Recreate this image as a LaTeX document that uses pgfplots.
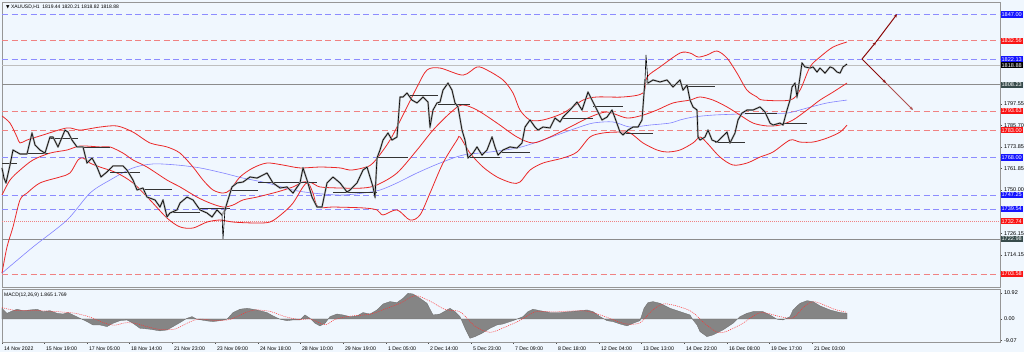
\documentclass[border=0pt]{standalone}
\usepackage{pgfplots}
\pgfplotsset{compat=1.18}
\usepackage{fontspec}
\setmainfont{Liberation Sans}
\newfontfamily\dejavu{DejaVu Sans}
\usetikzlibrary{arrows.meta}
\definecolor{bg}{RGB}{240,247,254}
\definecolor{lvlblue}{RGB}{140,140,255}
\definecolor{lvlred}{RGB}{240,130,130}
\definecolor{bandred}{RGB}{235,40,40}
\definecolor{maBlue}{RGB}{130,130,255}
\definecolor{boxgray}{RGB}{55,75,75}
\definecolor{arrowred}{RGB}{140,10,10}
\definecolor{arrowpale}{RGB}{190,110,110}
\definecolor{framec}{RGB}{150,150,150}
\definecolor{boxblue}{RGB}{20,20,255}
\definecolor{boxred}{RGB}{250,20,20}
\newcommand{\lbl}[3]{\node[anchor=west, fill=#2, text=white, inner xsep=0.9pt, inner ysep=1.1pt, font=\fontsize{5.6}{6}\selectfont] at (axis cs:1000.5,#1) {#3};}
\begin{document}
\begin{tikzpicture}
\path[use as bounding box] (0,0) rectangle (1024pt,352pt);
\fill[bg] (0,0) rectangle (1024pt,352pt);
\begin{axis}[
 at={(2pt,65pt)}, anchor=south west, scale only axis, width=998pt, height=285pt,
 xmin=2, xmax=1000, ymin=1696.4, ymax=1853.9,
 clip=false,
 axis background/.style={fill=bg},
 axis line style={draw=framec, line width=0.6pt},
 xtick=\empty,
 ytick pos=right, yticklabel pos=right,
 ytick={1714.15,1726.15,1750.00,1761.85,1773.85,1785.70,1797.55},
 yticklabels={1714.15,1726.15,1750.00,1761.85,1773.85,1785.70,1797.55},
 tick align=outside, major tick length=2pt, tick style={draw=black!70, line width=0.4pt},
 yticklabel style={font=\fontsize{5.5}{6}\selectfont, xshift=-1.5pt},
 /pgf/number format/assume math mode=true,
]
% level lines
\addplot[lvlblue, line width=0.7pt, dash pattern=on 6pt off 3.5pt] coordinates {(2,1847.00) (1000,1847.00)};
\addplot[lvlred, line width=0.7pt, dash pattern=on 6pt off 3.5pt] coordinates {(2,1832.56) (1000,1832.56)};
\addplot[lvlblue, line width=0.7pt, dash pattern=on 6pt off 3.5pt] coordinates {(2,1822.13) (1000,1822.13)};
\addplot[black!25, line width=0.5pt] coordinates {(2,1818.88) (1000,1818.88)};
\addplot[black!45, line width=0.7pt] coordinates {(2,1808.23) (1000,1808.23)};
\addplot[lvlred, line width=0.7pt, dash pattern=on 6pt off 3.5pt] coordinates {(2,1793.63) (1000,1793.63)};
\addplot[lvlred, line width=0.7pt, dash pattern=on 6pt off 3.5pt] coordinates {(2,1783.00) (1000,1783.00)};
\addplot[lvlblue, line width=0.7pt, dash pattern=on 6pt off 3.5pt] coordinates {(2,1768.00) (1000,1768.00)};
\addplot[lvlblue, line width=0.7pt, dash pattern=on 6pt off 3.5pt] coordinates {(2,1747.25) (1000,1747.25)};
\addplot[lvlblue, line width=0.7pt, dash pattern=on 6pt off 3.5pt] coordinates {(2,1739.54) (1000,1739.54)};
\addplot[lvlred, line width=0.6pt, dash pattern=on 1pt off 1pt] coordinates {(2,1732.74) (1000,1732.74)};
\addplot[black!45, line width=0.7pt] coordinates {(2,1722.98) (1000,1722.98)};
\addplot[lvlred, line width=0.7pt, dash pattern=on 6pt off 3.5pt] coordinates {(2,1703.58) (1000,1703.58)};
% moving average
\addplot[maBlue, line width=0.6pt, smooth] coordinates {
(2,1704.1) (33,1718.5) (67,1733.4) (90,1748.3) (110,1755.5) (133,1762.2) (153,1764.4) (177,1763.8) (200,1762.2) (223,1759.4) (243,1756.6) (267,1753.9) (293,1750.0) (313,1748.3) (340,1747.2) (363,1748.3) (380,1750.0) (397,1753.9) (417,1759.4) (440,1764.9) (463,1769.3) (490,1771.0) (517,1773.2) (537,1776.5) (557,1780.4) (577,1784.3) (593,1787.0) (613,1787.6) (630,1784.8) (650,1785.9) (670,1787.0) (680,1788.7) (693,1790.3) (713,1791.4) (740,1792.0) (767,1792.5) (787,1792.5) (807,1795.3) (827,1798.1) (847,1799.7)};
% Bollinger upper
\addplot[bandred, line width=0.8pt, smooth] coordinates {
(2,1790.9) (10,1787.0) (17,1779.3) (20,1776.0) (27,1777.6) (43,1780.4) (67,1784.3) (80,1783.1) (100,1784.8) (117,1785.4) (133,1782.0) (150,1776.0) (167,1773.8) (180,1770.4) (193,1762.7) (203,1755.5) (213,1750.0) (223,1748.3) (230,1750.0) (240,1757.2) (253,1762.2) (267,1764.9) (283,1763.8) (300,1762.2) (320,1762.7) (340,1762.2) (350,1761.0) (363,1762.2) (373,1764.9) (390,1777.6) (407,1795.9) (417,1806.9) (427,1816.3) (440,1817.4) (463,1813.5) (477,1818.0) (487,1816.3) (503,1810.8) (513,1803.6) (520,1794.2) (530,1788.7) (543,1788.7) (563,1792.5) (583,1799.7) (597,1801.4) (623,1801.4) (643,1803.6) (647,1812.4) (660,1818.0) (680,1825.7) (690,1825.7) (698,1823.5) (707,1824.6) (717,1826.8) (727,1822.9) (737,1814.6) (747,1805.2) (757,1801.4) (763,1799.7) (790,1799.7) (800,1805.2) (810,1818.0) (820,1823.5) (833,1829.0) (847,1831.8)};
% Bollinger middle
\addplot[bandred, line width=0.8pt, smooth] coordinates {
(2,1747.2) (10,1755.5) (20,1761.0) (33,1766.6) (50,1770.4) (67,1772.1) (80,1774.3) (100,1773.8) (110,1773.8) (123,1770.4) (133,1766.6) (147,1762.7) (167,1755.5) (180,1751.7) (197,1746.1) (210,1742.8) (223,1740.6) (233,1741.7) (243,1744.5) (257,1746.1) (277,1748.9) (293,1751.7) (303,1754.4) (312,1753.9) (320,1751.7) (340,1751.1) (363,1751.1) (377,1752.8) (397,1759.4) (417,1772.1) (433,1783.1) (450,1792.5) (462,1797.0) (477,1794.2) (497,1787.0) (517,1779.3) (533,1776.0) (550,1779.3) (570,1784.8) (590,1790.3) (607,1793.1) (627,1789.8) (643,1791.4) (657,1794.2) (673,1798.1) (690,1799.7) (700,1801.4) (713,1799.7) (727,1795.9) (740,1791.4) (753,1787.0) (767,1785.4) (780,1785.9) (793,1788.7) (807,1794.2) (820,1799.7) (833,1804.1) (847,1809.1)};
% Bollinger lower
\addplot[bandred, line width=0.8pt, smooth] coordinates {
(2,1704.1) (7,1718.5) (13,1729.6) (20,1744.5) (27,1748.3) (40,1753.9) (60,1757.2) (70,1759.4) (78,1766.6) (83,1767.7) (90,1764.9) (100,1762.7) (117,1759.4) (133,1753.9) (150,1744.5) (167,1734.5) (180,1729.6) (193,1729.0) (207,1732.3) (220,1733.4) (233,1732.3) (253,1731.8) (270,1732.3) (283,1737.3) (293,1742.8) (303,1751.7) (308,1753.9) (313,1748.3) (318,1740.6) (333,1740.6) (363,1740.1) (377,1739.0) (383,1736.2) (397,1739.0) (410,1733.4) (420,1736.2) (430,1748.3) (443,1764.9) (457,1777.6) (460,1779.3) (470,1770.4) (483,1762.7) (497,1757.2) (512,1753.9) (520,1754.4) (530,1761.0) (543,1764.9) (563,1767.7) (577,1771.0) (590,1779.3) (603,1781.5) (617,1782.0) (630,1781.5) (643,1776.0) (657,1772.1) (667,1771.0) (680,1772.1) (693,1776.0) (700,1779.3) (707,1776.0) (720,1768.2) (733,1763.8) (747,1764.9) (760,1768.2) (773,1771.0) (790,1777.6) (800,1776.5) (813,1776.5) (827,1778.7) (840,1782.0) (847,1785.9)};
% daily open segments
\addplot[black!80, line width=0.7pt, unbounded coords=jump] coordinates {
(2,1764.9) (17,1764.9) (17,nan) (20,1770.4) (48,1770.4) (48,nan) (50,1778.7) (78,1778.7) (78,nan) (80,1773.8) (110,1773.8) (110,nan) (110,1760.0) (140,1760.0) (140,nan) (143,1750.5) (172,1750.5) (172,nan) (172,1737.8) (200,1737.8) (200,nan) (200,1740.0) (230,1740.0) (230,nan) (230,1750.0) (258,1750.0) (258,nan) (258,1754.4) (287,1754.4) (287,nan) (287,1754.4) (317,1754.4) (317,nan) (333,1748.9) (377,1748.9) (377,nan) (377,1768.2) (408,1768.2) (408,nan) (408,1802.5) (438,1802.5) (438,nan) (438,1797.5) (470,1797.5) (470,nan) (470,1768.2) (500,1768.2) (500,nan) (500,1771.0) (530,1771.0) (530,nan) (563,1789.8) (593,1789.8) (593,nan) (593,1796.4) (623,1796.4) (623,nan) (623,1781.5) (653,1781.5) (653,nan) (687,1807.5) (715,1807.5) (715,nan) (715,1776.5) (745,1776.5) (745,nan) (745,1792.5) (777,1792.5) (777,nan) (777,1787.0) (807,1787.0)};
% price
\addplot[black!35, line width=1.8pt, line join=round] coordinates {
(2,1762.2) (4,1756.6) (6,1753.9) (10,1763.8) (13,1772.1) (20,1769.9) (27,1769.9) (32,1781.5) (35,1774.9) (40,1772.1) (45,1770.4) (50,1779.3) (53,1779.3) (58,1773.8) (65,1783.1) (68,1782.0) (72,1777.6) (77,1773.8) (83,1773.8) (87,1764.9) (92,1767.7) (97,1762.7) (101,1757.2) (107,1760.0) (113,1763.3) (123,1763.3) (127,1761.0) (133,1755.5) (137,1750.0) (143,1751.1) (147,1746.1) (155,1744.5) (160,1740.6) (163,1744.5) (167,1735.1) (170,1737.3) (177,1739.0) (180,1742.8) (187,1746.1) (193,1744.5) (200,1739.0) (207,1737.3) (212,1735.1) (217,1739.0) (222,1736.2) (225,1739.0) (227,1742.8) (232,1751.7) (237,1753.9) (243,1754.4) (250,1757.2) (257,1756.6) (267,1759.4) (273,1753.9) (280,1751.1) (287,1751.7) (293,1748.3) (300,1753.9) (303,1762.2) (307,1755.5) (312,1746.1) (317,1740.6) (322,1740.6) (327,1753.9) (333,1757.2) (340,1753.9) (347,1748.9) (350,1750.0) (357,1753.9) (363,1761.0) (367,1762.7) (370,1757.2) (373,1751.7) (375,1746.1) (377,1767.7) (380,1772.1) (383,1777.6) (388,1781.5) (392,1777.6) (397,1779.3) (400,1801.4) (403,1801.4) (407,1803.6) (412,1799.7) (417,1798.1) (423,1801.4) (428,1798.6) (430,1784.8) (433,1794.2) (437,1798.1) (440,1798.6) (443,1805.2) (448,1809.1) (452,1805.2) (455,1798.1) (458,1795.9) (462,1783.1) (465,1777.6) (468,1767.7) (473,1770.4) (477,1773.8) (482,1769.3) (487,1772.1) (492,1779.3) (495,1773.8) (498,1769.3) (503,1772.1) (510,1773.8) (517,1773.2) (522,1776.0) (525,1784.8) (530,1788.7) (535,1784.8) (538,1783.1) (543,1784.8) (550,1784.3) (555,1789.8) (560,1787.6) (563,1790.3) (570,1794.2) (577,1798.6) (582,1794.2) (588,1804.1) (593,1798.6) (597,1794.2) (602,1788.7) (607,1790.3) (612,1794.2) (615,1789.8) (620,1782.0) (623,1780.4) (628,1783.1) (633,1784.8) (638,1784.8) (642,1788.7) (645,1810.8) (648,1809.1) (653,1810.8) (660,1809.7) (667,1810.8) (673,1806.9) (680,1810.8) (683,1805.2) (687,1808.0) (690,1799.7) (693,1795.9) (697,1794.2) (698,1779.3) (700,1777.6) (705,1779.3) (708,1783.1) (712,1777.6) (717,1776.5) (722,1779.3) (727,1782.0) (730,1776.0) (735,1781.5) (738,1788.7) (742,1792.5) (747,1794.2) (753,1794.2) (760,1795.9) (765,1793.1) (770,1787.0) (773,1785.9) (780,1787.0) (783,1785.9) (787,1794.2) (790,1799.7) (792,1806.9) (795,1809.1) (797,1801.4) (800,1812.4) (802,1820.2) (805,1818.0) (810,1817.4) (813,1818.0) (817,1815.2) (820,1817.4) (825,1814.6) (830,1818.0) (833,1817.4) (837,1815.2) (840,1814.6) (843,1818.0) (847,1819.6)};
\addplot[black, line width=0.6pt] coordinates {
(2,1762.2) (4,1756.6) (6,1753.9) (10,1763.8) (13,1772.1) (20,1769.9) (27,1769.9) (32,1781.5) (35,1774.9) (40,1772.1) (45,1770.4) (50,1779.3) (53,1779.3) (58,1773.8) (65,1783.1) (68,1782.0) (72,1777.6) (77,1773.8) (83,1773.8) (87,1764.9) (92,1767.7) (97,1762.7) (101,1757.2) (107,1760.0) (113,1763.3) (123,1763.3) (127,1761.0) (133,1755.5) (137,1750.0) (143,1751.1) (147,1746.1) (155,1744.5) (160,1740.6) (163,1744.5) (167,1735.1) (170,1737.3) (177,1739.0) (180,1742.8) (187,1746.1) (193,1744.5) (200,1739.0) (207,1737.3) (212,1735.1) (217,1739.0) (222,1736.2) (223,1723.0) (225,1739.0) (227,1742.8) (232,1751.7) (237,1753.9) (243,1754.4) (250,1757.2) (257,1756.6) (267,1759.4) (273,1753.9) (280,1751.1) (287,1751.7) (293,1748.3) (300,1753.9) (303,1762.2) (307,1755.5) (312,1746.1) (317,1740.6) (322,1740.6) (327,1753.9) (333,1757.2) (340,1753.9) (347,1748.9) (350,1750.0) (357,1753.9) (363,1761.0) (367,1762.7) (370,1757.2) (373,1751.7) (375,1746.1) (377,1767.7) (380,1772.1) (383,1777.6) (388,1781.5) (392,1777.6) (397,1779.3) (400,1801.4) (403,1801.4) (407,1803.6) (412,1799.7) (417,1798.1) (423,1801.4) (428,1798.6) (430,1784.8) (433,1794.2) (437,1798.1) (440,1798.6) (443,1805.2) (448,1809.1) (452,1805.2) (455,1798.1) (458,1795.9) (462,1783.1) (465,1777.6) (468,1767.7) (473,1770.4) (477,1773.8) (482,1769.3) (487,1772.1) (492,1779.3) (495,1773.8) (498,1769.3) (503,1772.1) (510,1773.8) (517,1773.2) (522,1776.0) (525,1784.8) (530,1788.7) (535,1784.8) (538,1783.1) (543,1784.8) (550,1784.3) (555,1789.8) (560,1787.6) (563,1790.3) (570,1794.2) (577,1798.6) (582,1794.2) (588,1804.1) (593,1798.6) (597,1794.2) (602,1788.7) (607,1790.3) (612,1794.2) (615,1789.8) (620,1782.0) (623,1780.4) (628,1783.1) (633,1784.8) (638,1784.8) (642,1788.7) (645,1810.8) (646,1824.6) (648,1809.1) (653,1810.8) (660,1809.7) (667,1810.8) (673,1806.9) (680,1810.8) (683,1805.2) (687,1808.0) (690,1799.7) (693,1795.9) (697,1794.2) (698,1779.3) (700,1777.6) (705,1779.3) (708,1783.1) (712,1777.6) (717,1776.5) (722,1779.3) (727,1782.0) (730,1776.0) (735,1781.5) (738,1788.7) (742,1792.5) (747,1794.2) (753,1794.2) (760,1795.9) (765,1793.1) (770,1787.0) (773,1785.9) (780,1787.0) (783,1785.9) (787,1794.2) (790,1799.7) (792,1806.9) (795,1809.1) (797,1801.4) (800,1812.4) (802,1820.2) (805,1818.0) (810,1817.4) (813,1818.0) (817,1815.2) (820,1817.4) (825,1814.6) (830,1818.0) (833,1817.4) (837,1815.2) (840,1814.6) (843,1818.0) (847,1819.6)};
% scenario arrows
\addplot[arrowred, line width=1pt, -{Stealth[length=3.5pt,width=3pt]}] coordinates {(862,1822.4) (876,1831.8)};
\addplot[arrowred, line width=1pt, -{Stealth[length=3.5pt,width=3pt]}] coordinates {(876,1831.8) (897,1847.2)};
\addplot[arrowred, line width=1pt, -{Stealth[length=3.5pt,width=3pt]}] coordinates {(862,1822.4) (886,1809.1)};
\addplot[arrowpale!70!arrowred, line width=1pt, -{Stealth[length=3.5pt,width=3pt]}] coordinates {(886,1809.1) (913,1794.2)};
% right labels
\lbl{1847.00}{boxblue}{1847.00}
\lbl{1832.56}{boxred}{1832.56}
\lbl{1822.13}{boxblue}{1822.13}
\lbl{1818.88}{black}{1818.88}
\lbl{1808.23}{boxgray}{1808.23}
\lbl{1793.63}{boxred}{1793.63}
\lbl{1783.00}{boxred}{1783.00}
\lbl{1768.00}{boxblue}{1768.00}
\lbl{1747.25}{boxblue}{1747.25}
\lbl{1739.54}{boxblue}{1739.54}
\lbl{1732.74}{boxred}{1732.74}
\lbl{1722.98}{boxgray}{1722.98}
\lbl{1703.58}{boxred}{1703.58}
\node[anchor=north west, inner sep=0pt, font=\fontsize{5}{6}\selectfont] at (rel axis cs:0.004,0.99) {{\dejavu\fontsize{4.5}{5}\selectfont ▼} XAUUSD,H1\ \ 1819.44 1820.21 1818.82 1818.88};
\end{axis}
\begin{axis}[
 at={(2pt,10pt)}, anchor=south west, scale only axis, width=998pt, height=53pt,
 xmin=2, xmax=1000, ymin=-9.66, ymax=12.6,
 clip=false,
 axis background/.style={fill=bg},
 axis line style={draw=framec, line width=0.6pt},
 xtick pos=bottom,
 xtick={2,44,87,129,172,215,258,300,343,386,428,471,513,556,599,641,684,727,769,812},
 xticklabels={14 Nov 2022,15 Nov 19:00,17 Nov 05:00,18 Nov 14:00,21 Nov 23:00,23 Nov 09:00,24 Nov 18:00,28 Nov 10:00,29 Nov 19:00,1 Dec 05:00,2 Dec 14:00,5 Dec 23:00,7 Dec 09:00,8 Dec 18:00,12 Dec 04:00,13 Dec 13:00,14 Dec 22:00,16 Dec 08:00,19 Dec 17:00,21 Dec 03:00},
 xticklabel style={anchor=north west, font=\fontsize{5.2}{6}\selectfont, xshift=-1.5pt, yshift=1pt},
 x tick style={draw=black!70, line width=0.4pt},
 ytick pos=right, yticklabel pos=right,
 ytick={-9.07,0,10.92},
 yticklabels={-9.07,0.00,10.92},
 tick align=outside, major tick length=2pt, y tick style={draw=black!70, line width=0.4pt},
 yticklabel style={font=\fontsize{5.5}{6}\selectfont, xshift=-1.5pt},
 /pgf/number format/assume math mode=true,
]
\addplot[fill=black!48, draw=black!58, line width=0.3pt] coordinates {
(2,0) (2,4.5) (7,2.4) (13,3.5) (17,4.1) (23,3.5) (30,3.8) (37,4.1) (43,3.1) (50,3.5) (57,2.4) (63,2.1) (68,2.7) (73,1.7) (80,0.3) (87,-1.1) (93,-2.5) (100,-2.5) (107,-3.2) (113,-1.8) (120,-0.7) (127,-0.4) (133,-1.8) (140,-3.9) (150,-4.3) (160,-5.0) (167,-4.6) (173,-3.2) (180,-1.5) (187,0.3) (192,1.0) (197,-0.1) (207,-0.8) (213,-1.1) (220,-0.7) (227,-0.1) (233,2.7) (240,4.1) (247,4.5) (253,4.1) (260,3.5) (267,2.7) (273,1.3) (280,-0.1) (287,-0.7) (293,-0.4) (300,-0.4) (305,1.7) (310,0.3) (315,-1.8) (320,-2.9) (325,-1.8) (330,1.0) (337,2.1) (343,1.7) (350,1.0) (357,1.3) (363,2.7) (370,2.1) (377,3.8) (383,6.3) (390,7.3) (397,6.9) (403,8.7) (408,10.8) (413,10.5) (420,8.7) (427,6.6) (433,1.7) (440,2.1) (447,3.8) (450,4.5) (455,3.1) (460,1.0) (465,-3.9) (470,-8.1) (475,-7.4) (482,-6.0) (490,-3.9) (497,-2.5) (503,-2.1) (513,-0.7) (523,1.0) (528,3.1) (533,4.1) (540,3.5) (550,2.7) (560,2.7) (570,3.1) (580,3.5) (587,3.8) (593,3.1) (600,1.0) (607,-0.7) (613,-1.1) (620,-2.1) (627,-2.9) (633,-1.8) (640,-0.7) (644,4.5) (648,6.9) (653,7.3) (660,6.6) (670,4.5) (680,3.1) (690,1.7) (693,-0.4) (697,-2.5) (700,-5.3) (707,-7.4) (713,-6.7) (723,-4.6) (733,-1.8) (740,1.0) (747,2.4) (753,3.1) (763,3.1) (770,1.7) (777,-0.1) (783,-0.4) (790,1.0) (793,3.8) (800,6.6) (807,7.7) (813,7.3) (820,5.5) (830,3.8) (840,2.7) (847,2.4) (847,0)} -- cycle;
\addplot[red!80, line width=0.5pt, dash pattern=on 1pt off 1pt, smooth] coordinates {
(2,4.8) (15,3.6) (30,3.6) (45,3.4) (60,3.0) (75,2.4) (90,0.8) (105,-1.8) (115,-2.6) (125,-1.6) (135,-1.8) (145,-3.0) (160,-4.4) (175,-4.2) (190,-1.2) (200,0.0) (215,-0.6) (230,-0.2) (245,2.6) (255,3.8) (270,3.2) (285,1.0) (300,-0.3) (310,0.1) (325,-2.4) (335,-0.2) (350,1.2) (370,2.0) (385,4.2) (400,6.6) (415,9.8) (430,7.5) (445,4.0) (460,3.0) (475,-3.0) (490,-5.6) (505,-3.4) (520,-0.6) (535,3.0) (555,3.0) (585,3.4) (605,1.0) (625,-2.0) (640,-1.6) (652,3.5) (665,6.4) (690,3.5) (705,-2.0) (720,-5.8) (740,-2.5) (760,2.6) (780,1.0) (793,0.5) (805,5.5) (815,7.2) (835,4.0) (847,2.8)};
\node[anchor=north west, inner sep=0pt, font=\fontsize{5}{6}\selectfont] at (rel axis cs:0.002,0.93) {MACD(12,26,9) 1.865 1.769};
\end{axis}
\end{tikzpicture}
\end{document}
